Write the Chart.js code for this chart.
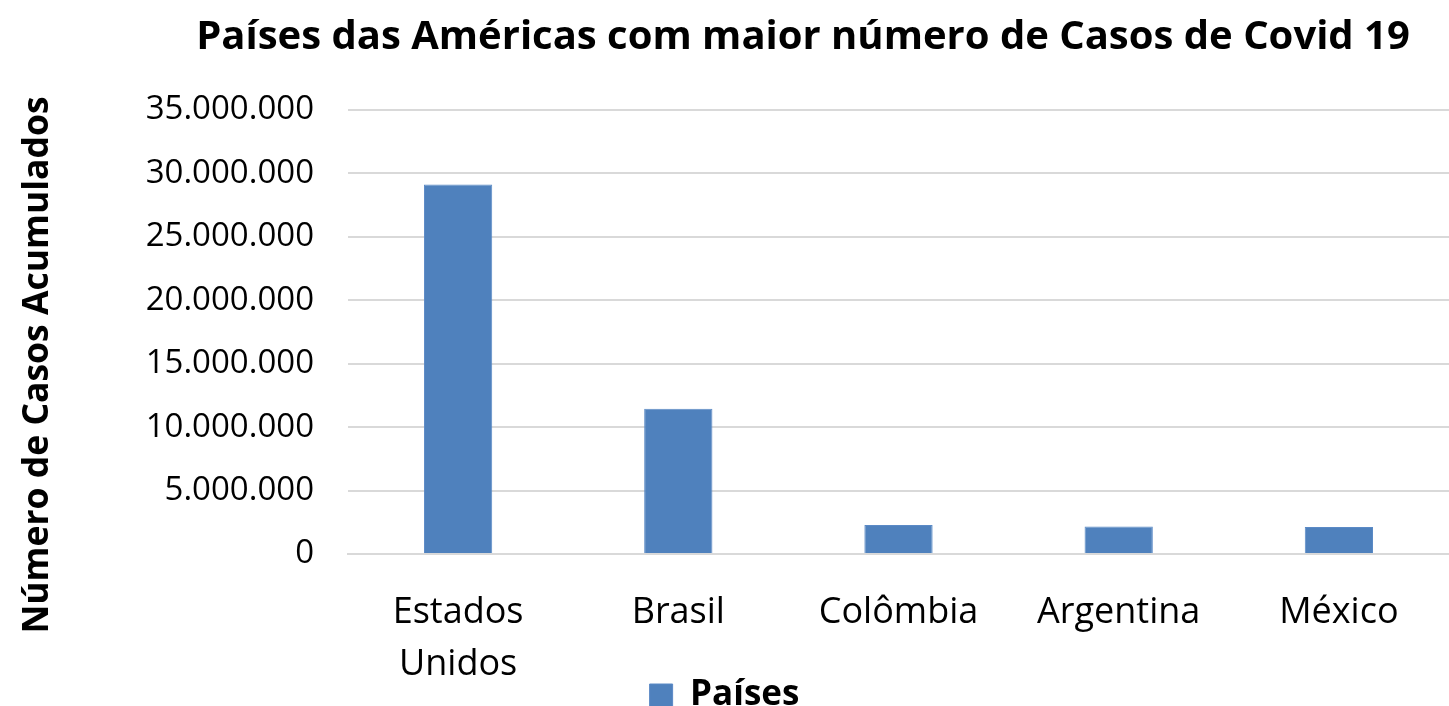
<!DOCTYPE html>
<html>
<head>
<meta charset="utf-8">
<script src="https://cdn.jsdelivr.net/npm/chart.js@4.4.0/dist/chart.umd.min.js"></script>
<style>
  html, body { margin: 0; padding: 0; background: #fff; }
  #wrap { width: 1449px; height: 706px; }
</style>
</head>
<body>
<div id="wrap"><canvas id="chart"></canvas></div>
<script>
// dados
var paises = [['Estados', 'Unidos'], 'Brasil', 'Colômbia', 'Argentina', 'México'];
var casos = [29130000, 11450000, 2290000, 2160000, 2130000];
var tituloGrafico = 'Países das Américas com maior número de Casos de Covid 19';
var tituloEixoY = 'Número de Casos Acumulados';
var nomeSerie = 'Países';

var fonte = "'Open Sans', sans-serif";

function formata(v){
    return String(v).replace(/\B(?=(\d{3})+(?!\d))/g, '.');
}

// titulo e eixo y desenhados a mao pra ficar no lugar certo
var textos = {
    id: 'textos',
    afterDraw: function(chart){
        var ctx = chart.ctx;
        ctx.save();
        ctx.fillStyle = '#000';
        ctx.textAlign = 'center';
        ctx.textBaseline = 'middle';
        ctx.font = 'bold 40px ' + fonte;
        ctx.fillText(tituloGrafico, 803, 38);
        ctx.translate(38, 365);
        ctx.rotate(-Math.PI / 2);
        ctx.font = 'bold 35.5px ' + fonte;
        ctx.fillText(tituloEixoY, 0, 0);
        ctx.restore();
    }
};

var ctx = document.getElementById('chart').getContext('2d');
var grafico = new Chart(ctx, {
    type: 'bar',
    data: {
        labels: paises,
        datasets: [{
            label: nomeSerie,
            data: casos,
            backgroundColor: '#4f81bd',
            borderColor: '#5b8ac6',
            borderWidth: 1,
            barPercentage: 0.31,
            categoryPercentage: 1
        }]
    },
    options: {
        responsive: true,
        maintainAspectRatio: false,
        animation: false,
        layout: { padding: { top: 110, right: 0, bottom: -17, left: 0 } },
        plugins: {
            title: { display: false },
            tooltip: { enabled: false },
            legend: {
                display: true,
                position: 'bottom',
                labels: {
                    color: '#000',
                    boxWidth: 23,
                    boxHeight: 23,
                    padding: 0,
                    font: { family: fonte, size: 35, weight: 'bold' }
                }
            }
        },
        scales: {
            x: {
                grid: { display: false, drawTicks: false },
                border: { display: true, color: '#d9d9d9', width: 2 },
                ticks: {
                    color: '#000',
                    padding: 33,
                    maxRotation: 0,
                    font: { family: fonte, size: 36, lineHeight: 1.44 }
                },
                afterFit: function(scale){ scale.height = 124; }
            },
            y: {
                min: 0,
                max: 35000000,
                grid: { color: '#d9d9d9', lineWidth: 2, drawTicks: false },
                border: { display: false },
                ticks: {
                    stepSize: 5000000,
                    color: '#000',
                    padding: 34,
                    font: { family: fonte, size: 33 },
                    callback: function(v){ return formata(v); }
                },
                afterFit: function(scale){ scale.width = 348; }
            }
        }
    },
    plugins: [textos]
});
</script>
</body>
</html>
